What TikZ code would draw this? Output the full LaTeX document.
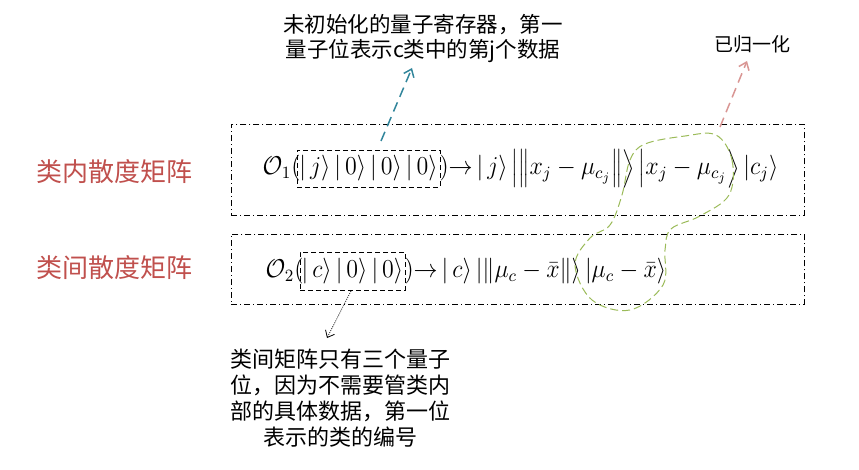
\documentclass[tikz,border=0pt]{standalone}
\usepackage{fontspec}
\usepackage{graphicx}
\newfontfamily\cjk{Noto Sans CJK SC}
\usetikzlibrary{arrows.meta}
\definecolor{lblred}{RGB}{192,80,77}
\definecolor{tealc}{RGB}{49,133,155}
\definecolor{pinkc}{RGB}{217,150,148}
\definecolor{greenc}{RGB}{155,187,89}
\newcommand{\mymath}[1]{\scalebox{2}[2.15]{\fontsize{12}{14}\selectfont$#1$}}
\newcommand{\myto}{\mathord{\rightarrow}}
\tikzset{
  outerbox/.style={draw, line width=0.8pt, dash pattern=on 6pt off 3pt on 1pt off 3pt},
  dashbox/.style={draw, line width=0.8pt, dash pattern=on 5pt off 3pt, inner sep=0pt},
  mathtxt/.style={inner sep=0pt},
  rowlabel/.style={inner sep=0pt, text=lblred, font=\cjk\fontsize{26}{30}\selectfont},
  note/.style={inner sep=0pt, align=center, font=\cjk\fontsize{21.5}{25}\selectfont},
  ann/.style={line width=1.5pt, dash pattern=on 10pt off 6pt, -{Straight Barb[length=7pt,width=11pt,line width=1.5pt]}},
}
\begin{document}
\begin{tikzpicture}[x=1pt,y=-1pt]
\useasboundingbox (0,0) rectangle (859,470);

% outer boxes
\node[outerbox, minimum width=573pt, minimum height=91pt, anchor=north west] (b1) at (231,124) {};
\node[outerbox, minimum width=573pt, minimum height=70pt, anchor=north west] (b2) at (231,234) {};

% row labels
\node[rowlabel] (l1) at (114.5,172) {类内散度矩阵};
\node[rowlabel] (l2) at (114.5,268) {类间散度矩阵};

% formula 1
\node[dashbox, minimum width=143pt, minimum height=37pt, mathtxt] (r1) at (368.5,168.5)
  {\mymath{\left|\, j\right\rangle\left|\, 0\right\rangle\left|\, 0\right\rangle\left|\, 0\right\rangle}};
\node[mathtxt, anchor=east] (o1) at ([xshift=4pt]r1.west) {\mymath{\mathcal{O}_1(}};
\node[mathtxt, anchor=west] (f1) at ([xshift=-1pt]r1.east)
  {\mymath{)\myto\left|\, j\right\rangle\left|\left\| x_j-\mu_{c_j}\right\|\right\rangle\left| x_j-\mu_{c_j}\right\rangle\left| c_j\right\rangle}};

% formula 2
\node[dashbox, minimum width=105pt, minimum height=38pt, mathtxt] (r2) at (352.5,271)
  {\mymath{\left|\, c\right\rangle\left|\, 0\right\rangle\left|\, 0\right\rangle}};
\node[mathtxt, anchor=east] (o2) at ([xshift=4pt]r2.west) {\mymath{\mathcal{O}_2(}};
\node[mathtxt, anchor=west] (f2) at ([xshift=-1pt]r2.east)
  {\mymath{)\myto\left|\, c\right\rangle\left|\left\|\mu_c-\bar{x}\right\|\right\rangle\left|\mu_c-\bar{x}\right\rangle}};

% green loop
\draw[greenc, line width=1pt, dash pattern=on 8pt off 4pt]
  plot[smooth cycle, tension=0.6] coordinates {(716,135) (732,160) (729,195) (700,216) (671,229) (665,250) (663,285) (630,310) (592,300) (575,265) (590,238) (610,225) (622,195) (630,160) (645,144) (685,136)};

% annotations
\node[note, anchor=north west] (n1) at (283,14) {未初始化的量子寄存器，第一\\量子位表示c类中的第j个数据};
\node[inner sep=0pt, font=\cjk\fontsize{19}{22}\selectfont] (n2) at (752,44) {已归一化};
\node[inner sep=0pt, align=center, font=\cjk\fontsize{22}{26}\selectfont, anchor=north] (n3) at (340,349)
  {类间矩阵只有三个量子\\位，因为不需要管类内\\部的具体数据，第一位\\表示的类的编号};

\coordinate (s1) at (381,141);
\coordinate (t1) at (412,68);
\coordinate (s2) at (720,127);
\coordinate (t2) at (747,61);
\coordinate (s3) at (351,291);
\coordinate (t3) at (327,338);
\draw[ann, tealc] (s1) -- (t1);
\draw[ann, pinkc] (s2) -- (t2);
\draw[line width=0.7pt, dash pattern=on 1pt off 1.2pt, -{Straight Barb[length=6pt,width=10pt,line width=0.8pt]}] (s3) -- (t3);
\end{tikzpicture}
\end{document}
